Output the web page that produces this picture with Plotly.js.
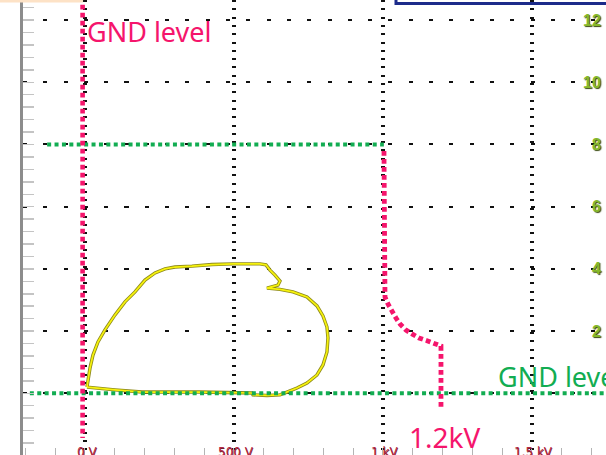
<!DOCTYPE html>
<html>
<head>
<meta charset="utf-8">
<script src="https://cdn.plot.ly/plotly-3.0.1.min.js"></script>
<style>html,body{margin:0;padding:0;background:#fff;}#chart{width:606px;height:455px;}</style>
</head>
<body>
<div id="chart"></div>
<script>
// X channel voltage (V) and Y channel value for the Lissajous-like loop
const loopV = [6.7, 16.8, 26.8, 43.6, 67.1, 100.7, 134.2, 167.8, 201.4, 234.9, 268.5, 302.0, 359.1, 426.2, 496.7, 587.3, 607.4, 620.9, 637.6, 654.4, 647.7, 627.6, 610.8, 654.4, 698.0, 745.0, 778.6, 798.7, 812.1, 815.5, 812.1, 798.7, 778.6, 745.0, 711.5, 677.9, 654.4, 610.8, 563.8, 560.5, 486.6, 385.9, 302.0, 191.3, 100.7, 33.6, 6.7];
const loopY = [0.20, 0.81, 1.23, 1.65, 2.04, 2.52, 2.94, 3.26, 3.64, 3.87, 4.00, 4.06, 4.09, 4.14, 4.16, 4.16, 4.13, 3.96, 3.80, 3.61, 3.48, 3.42, 3.38, 3.34, 3.26, 3.10, 2.81, 2.49, 2.13, 1.78, 1.33, 0.91, 0.59, 0.33, 0.17, 0.04, -0.05, -0.07, -0.05, 0.01, 0.03, 0.04, 0.04, 0.04, 0.11, 0.17, 0.20];

// Pink trace (reaching 1.2 kV)
const pinkV = [1003.4, 1003.4, 1006.8, 1016.9, 1030.3, 1043.7, 1057.1, 1077.3, 1097.4, 1120.9, 1147.8, 1171.2, 1194.7, 1194.7];
const pinkY = [7.79, 3.32, 3.10, 2.87, 2.61, 2.42, 2.23, 2.03, 1.91, 1.78, 1.69, 1.62, 1.52, -0.54];

// X channel GND level (vertical)
const gndXV = [-8, -8];
const gndXY = [12.49, -1.44];

// Y channel GND level and upper level (horizontal)
const gndYV = [-185, 1760];
const gndYY = [0, 0];
const levelV = [-127, 1003];
const levelY = [8, 8];

// Tick labels
const xTickVals = [0, 500, 1000, 1500];
const xTickText = ["0 V", "500 V", "1 kV", "1.5 kV"];
const yTickVals = [12, 10, 8, 6, 4, 2, 0];
const yTickText = ["12", "10", "8", "6", "4", "2", "(0)"];

const pink = '#f5156c';
const green = '#12ad52';

const traces = [
  {x: loopV, y: loopY, mode: 'lines', line: {color: '#8e8a1c', width: 3.4}, hoverinfo: 'skip'},
  {x: loopV, y: loopY, mode: 'lines', line: {color: '#f6f20c', width: 1.7}, hoverinfo: 'skip'},
  {x: gndYV, y: gndYY, mode: 'lines', line: {color: green, width: 4, dash: '4px,3.4px'}},
  {x: levelV, y: levelY, mode: 'lines', line: {color: green, width: 4, dash: '4px,3.4px'}},
  {x: gndXV, y: gndXY, mode: 'lines', line: {color: pink, width: 4.6, dash: '4.6px,3.4px'}},
  {x: pinkV, y: pinkY, mode: 'lines', line: {color: pink, width: 4.8, dash: '4.8px,3.2px'}}
];

const annotations = [];
xTickVals.forEach((v, i) => annotations.push({
  x: v, y: -1.9, xref: 'x', yref: 'y', text: xTickText[i], showarrow: false,
  xshift: 2, font: {family: 'DejaVu Sans', size: 12, color: '#b52a44', shadow: '0.5px 0.5px 0.5px #702030'}
}));
yTickVals.forEach((v, i) => annotations.push({
  x: v === 0 ? 1743 : 1740, y: v, xref: 'x', yref: 'y', text: yTickText[i], showarrow: false,
  xanchor: v === 0 ? 'left' : 'right',
  font: {family: 'Liberation Sans', size: 16, weight: 'bold', color: '#86b82a', shadow: '1px 1px 1px #3a4a10'}
}));
annotations.push({x: 0, y: 11.63, xref: 'x', yref: 'y', text: 'GND level', showarrow: false,
  xanchor: 'left', font: {family: 'Noto Sans', size: 27, color: pink}});
annotations.push({x: 1379, y: 0.54, xref: 'x', yref: 'y', text: 'GND level', showarrow: false,
  xanchor: 'left', font: {family: 'Noto Sans', size: 27, color: green}});
annotations.push({x: 1080, y: -1.41, xref: 'x', yref: 'y', text: '1.2kV', showarrow: false,
  xanchor: 'left', font: {family: 'Noto Sans', size: 28, color: pink}});

const layout = {
  width: 606, height: 455,
  margin: {l: 23, r: 0, t: 0, b: 0},
  paper_bgcolor: '#ffffff', plot_bgcolor: '#ffffff',
  showlegend: false,
  xaxis: {
    range: [-208, 1748.5], tickvals: xTickVals, showticklabels: false,
    showgrid: true, gridcolor: '#111', gridwidth: 4, griddash: '2px,6.3px',
    zeroline: false, showline: false,
    ticks: 'inside', ticklen: 7, tickcolor: '#b4b4b4', tickwidth: 1,
    minor: {dtick: 100, tick0: 0, ticks: 'inside', ticklen: 7, tickcolor: '#b4b4b4', showgrid: false}
  },
  yaxis: {
    range: [-1.984, 12.646], tickvals: yTickVals, showticklabels: false,
    showgrid: true, gridcolor: '#111', gridwidth: 2, griddash: '4px,16.3px',
    zeroline: false, showline: true, linecolor: '#8c8c8c', linewidth: 3,
    ticks: 'inside', ticklen: 11, tickcolor: '#c4c4c4', tickwidth: 1.5,
    minor: {dtick: 0.4, tick0: 0, ticks: 'inside', ticklen: 11, tickcolor: '#c4c4c4', tickwidth: 1.5, showgrid: false}
  },
  shapes: [
    {type: 'rect', xref: 'paper', yref: 'paper', x0: -0.04, x1: 0.103, y0: 0.9945, y1: 1.01,
     fillcolor: '#fde2c6', line: {width: 0}},
    {type: 'rect', xref: 'paper', yref: 'paper', x0: 0.6398, x1: 1.05, y0: 0.9925, y1: 1.05,
     fillcolor: 'rgba(0,0,0,0)', line: {color: '#1c2b8a', width: 3}}
  ],
  annotations: annotations
};

Plotly.newPlot('chart', traces, layout, {staticPlot: true, displayModeBar: false});
</script>
</body>
</html>
